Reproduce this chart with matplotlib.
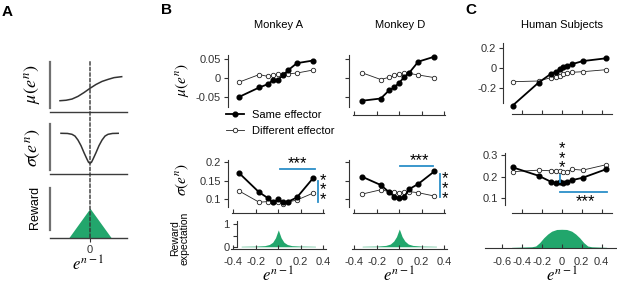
import numpy as np
import matplotlib
matplotlib.use('Agg')
import matplotlib.pyplot as plt
from matplotlib.lines import Line2D
from matplotlib.patches import ConnectionPatch

plt.rcParams['font.family'] = ['Liberation Sans', 'DejaVu Sans']
plt.rcParams['mathtext.fontset'] = 'stix'
plt.rcParams['axes.unicode_minus'] = False

# ---- panel A schematic (x in units of e^{n-1}, y normalised 0..1) ----
a_x_mu = [-1.0, -0.8, -0.6, -0.4, -0.2, 0.0, 0.2, 0.4, 0.6, 0.8, 1.056]
a_mu = [0.229, 0.238, 0.262, 0.315, 0.39, 0.474, 0.55, 0.61, 0.65, 0.685, 0.704]
a_x_sd = [-0.967, -0.75, -0.6, -0.5, -0.4, -0.3, -0.2, -0.1, -0.05, 0.0,
          0.05, 0.1, 0.2, 0.3, 0.4, 0.5, 0.6, 0.75, 0.94]
a_sd = [0.815, 0.812, 0.795, 0.76, 0.68, 0.57, 0.43, 0.30, 0.24, 0.219,
        0.24, 0.30, 0.43, 0.57, 0.68, 0.76, 0.795, 0.812, 0.815]
a_x_rew = [-0.72, 0.0, 0.72]
a_rew = [0.0, 0.6, 0.0]

# ---- panel B, monkey A ----
bins_A = [-0.35, -0.17, -0.09, -0.05, 0.0, 0.045, 0.09, 0.165, 0.31]
mu_A_same = [-0.050, -0.025, -0.016, -0.006, -0.004, 0.008, 0.021, 0.039, 0.046]
mu_A_diff = [-0.011, 0.009, 0.004, 0.007, 0.010, 0.010, 0.011, 0.013, 0.021]
sd_A_same = [0.171, 0.118, 0.102, 0.091, 0.099, 0.091, 0.093, 0.104, 0.157]
sd_A_diff = [0.122, 0.091, 0.093, 0.093, 0.093, 0.087, 0.092, 0.097, 0.116]

# ---- panel B, monkey D ----
bins_D = [-0.334, -0.165, -0.089, -0.044, 0.0, 0.044, 0.089, 0.169, 0.311]
mu_D_same = [-0.060, -0.054, -0.032, -0.025, -0.012, 0.002, 0.014, 0.043, 0.056]
mu_D_diff = [0.014, -0.004, 0.002, 0.007, 0.010, 0.012, 0.012, 0.008, 0.001]
sd_D_same = [0.161, 0.138, 0.118, 0.106, 0.102, 0.106, 0.127, 0.141, 0.175]
sd_D_diff = [0.113, 0.125, 0.120, 0.120, 0.117, 0.120, 0.120, 0.117, 0.108]

# ---- panel C, humans ----
bins_C = [-0.49, -0.23, -0.11, -0.055, -0.02, 0.012, 0.05, 0.105, 0.21, 0.443]
mu_C_same = [-0.372, -0.142, -0.057, -0.032, -0.008, 0.011, 0.020, 0.042, 0.072, 0.100]
mu_C_diff = [-0.134, -0.127, -0.094, -0.084, -0.077, -0.060, -0.050, -0.040, -0.034, -0.014]
sd_C_same = [0.243, 0.204, 0.177, 0.169, 0.174, 0.172, 0.175, 0.184, 0.195, 0.234]
sd_C_diff = [0.223, 0.230, 0.227, 0.227, 0.227, 0.223, 0.223, 0.234, 0.230, 0.255]

# ---- reward expectation ----
rew_x_B = [-0.33, -0.2, -0.12, -0.08, -0.05, -0.025, 0.0, 0.025, 0.05, 0.08, 0.12, 0.2, 0.33]
rew_A = [0.02, 0.03, 0.05, 0.10, 0.20, 0.40, 0.75, 0.40, 0.20, 0.10, 0.05, 0.03, 0.02]
rew_D = [0.02, 0.03, 0.06, 0.12, 0.25, 0.45, 0.79, 0.45, 0.25, 0.12, 0.06, 0.03, 0.02]
rew_x_C = [-0.5, -0.3, -0.26, -0.22, -0.18, -0.14, -0.1, -0.05, 0.0, 0.05, 0.1, 0.14, 0.18, 0.22, 0.26, 0.3, 0.45]
rew_C = [0.05, 0.08, 0.12, 0.30, 0.55, 0.75, 0.90, 0.99, 1.0, 0.99, 0.90, 0.75, 0.55, 0.30, 0.12, 0.08, 0.05]

xt_B = [-0.4, -0.2, 0, 0.2, 0.4]
xt_B_lab = ['-0.4', '-0.2', '0', '0.2', '0.4']
xt_C = [-0.6, -0.4, -0.2, 0, 0.2, 0.4]
xt_C_lab = ['-0.6', '-0.4', '-0.2', '0', '0.2', '0.4']

W, H = 617, 285
fig = plt.figure(figsize=(W / 100, H / 100), dpi=100)

GREEN = '#22a66c'
BLUE = '#2b8fc8'
DARK = '#222222'


def add_ax(x0, y0, x1, y1):
    ax = fig.add_axes([x0 / W, 1 - y1 / H, (x1 - x0) / W, (y1 - y0) / H])
    ax.patch.set_alpha(0)
    for s in ['top', 'right']:
        ax.spines[s].set_visible(False)
    ax.tick_params(labelsize=8, length=3, width=0.8, pad=2, colors='#333333')
    ax.tick_params(axis='x', direction='in')
    for s in ['left', 'bottom']:
        ax.spines[s].set_linewidth(0.8)
        ax.spines[s].set_color('#333333')
    return ax


def ftext(x, y, s, va='center', **kw):
    fig.text(x / W, 1 - y / H, s, ha='center', va=va, **kw)


def series(ax, x, same, diff):
    ax.plot(x, diff, '-o', color=DARK, lw=0.6, ms=3.2, mfc='white', mew=0.6, clip_on=False)
    ax.plot(x, same, '-o', color='black', lw=1.3, ms=3.4, clip_on=False)


# ================= panel A =================
axA = [add_ax(50, 61.7, 127, 112.3), add_ax(50, 124, 127, 174.3), add_ax(50, 188.3, 127, 238.3)]
for ax in axA:
    ax.set_xlim(-1.333, 1.233)
    ax.set_ylim(0, 1)
    ax.set_xticks([])
    ax.set_yticks([])
    ax.spines['left'].set_color('#707070')
    ax.spines['left'].set_linewidth(1.6)
    ax.spines['bottom'].set_color('#3c3c3c')
    ax.spines['bottom'].set_linewidth(1.0)
axA[0].spines['left'].set_bounds(0.08, 1)
axA[1].spines['left'].set_bounds(0.08, 1)
axA[2].spines['left'].set_bounds(0.17, 1)
axA[0].plot(a_x_mu, a_mu, color='#333333', lw=1.1)
axA[1].plot(a_x_sd, a_sd, color='#333333', lw=1.1)
axA[2].fill_between(a_x_rew, a_rew, color=GREEN, lw=0)
axA[2].set_xticks([0])
axA[2].set_xticklabels(['0'])
axA[2].tick_params(axis='x', direction='out', length=3)
con = ConnectionPatch(xyA=(0, 1), coordsA=axA[0].get_xaxis_transform(),
                      xyB=(0, 0), coordsB=axA[2].get_xaxis_transform(),
                      ls=(0, (2.5, 1.5)), lw=1.0, color='#333333')
fig.add_artist(con)
ftext(33, 84, r'$\mu(e^n)$', fontsize=13, rotation=90)
ftext(33, 148, r'$\sigma(e^n)$', fontsize=13, rotation=90)
ftext(35, 207, 'Reward', fontsize=9, rotation=90)
ftext(88, 271, r'$e^{n-1}$', va='baseline', fontsize=12)

# ================= panel B =================
xl_B = (-0.45, 0.45)
STAR = 12
for k, (x0, bins, mu_s, mu_d, sd_s, sd_d, rew) in enumerate([
        (278.3, bins_A, mu_A_same, mu_A_diff, sd_A_same, sd_A_diff, rew_A),
        (399.3, bins_D, mu_D_same, mu_D_diff, sd_D_same, sd_D_diff, rew_D)]):
    left, right = x0 - 50.6, x0 + 50.6
    axm = add_ax(left, 52, right, 115)
    axm.set_xlim(*xl_B)
    axm.set_ylim(-0.0974, 0.0684)
    axm.spines['left'].set_bounds(-0.076, 0.061)
    axm.set_yticks([-0.05, 0, 0.05])
    axm.set_xticks(xt_B)
    axm.set_xticklabels([])
    axm.spines['bottom'].set_bounds(-0.41, 0.41)
    series(axm, bins, mu_s, mu_d)

    axs = add_ax(left, 152, right, 213)
    axs.set_xlim(*xl_B)
    axs.set_ylim(0.0617, 0.228)
    axs.spines['left'].set_bounds(0.077, 0.205)
    axs.spines['bottom'].set_bounds(-0.41, 0.41)
    axs.set_yticks([0.1, 0.15, 0.2])
    axs.set_xticks(xt_B)
    axs.set_xticklabels([])
    series(axs, bins, sd_s, sd_d)

    axr = add_ax(left, 218, right, 249)
    axr.set_xlim(*xl_B)
    axr.set_ylim(-0.1, 1.28)
    axr.fill_between(rew_x_B, rew, color=GREEN, lw=0)
    axr.set_xticks(xt_B)
    axr.set_xticklabels(xt_B_lab)
    axr.spines['bottom'].set_bounds(-0.42, 0.42)
    axr.tick_params(axis='x', pad=6)
    ftext(x0, 282, r'$e^{n-1}$', va='baseline', fontsize=12)

    if k == 0:
        axm.set_yticklabels(['-0.05', '0', '0.05'])
        axm.spines['bottom'].set_visible(False)
        axm.tick_params(axis='x', length=0)
        axs.set_yticklabels(['0.1', '0.15', '0.2'])
        axr.spines['left'].set_position(('data', -0.37))
        axr.spines['left'].set_bounds(-0.03, 1.16)
        axr.set_yticks([0, 0.5, 1])
        axr.set_yticklabels(['0', '', '1'])
        # significance
        axs.plot([0.015, 0.326], [0.181, 0.181], color=BLUE, lw=1.3, clip_on=False)
        axs.text(0.17, 0.196, '***', fontsize=STAR, ha='center', va='center')
        axs.plot([0.356, 0.356], [0.148, 0.092], color=BLUE, lw=1.3, clip_on=False)
        axs.text(0.40, 0.125, '*\n*\n*', fontsize=STAR, ha='center', va='center', linespacing=0.55)
        ftext(278.3, 25, 'Monkey A', fontsize=8)
    else:
        axm.set_yticklabels([])
        axs.set_yticklabels([])
        axr.spines['left'].set_visible(False)
        axr.set_yticks([])
        axs.plot([0.006, 0.302], [0.19, 0.19], color=BLUE, lw=1.3, clip_on=False)
        axs.text(0.18, 0.205, '***', fontsize=STAR, ha='center', va='center')
        axs.plot([0.364, 0.364], [0.168, 0.105], color=BLUE, lw=1.3, clip_on=False)
        axs.text(0.41, 0.128, '*\n*\n*', fontsize=STAR, ha='center', va='center', linespacing=0.55)
        ftext(400, 25, 'Monkey D', fontsize=8)

ftext(182, 80, r'$\mu(e^n)$', fontsize=11, rotation=90)
ftext(182, 180, r'$\sigma(e^n)$', fontsize=11, rotation=90)
ftext(180, 238, 'Reward\nexpectation', fontsize=7.5, rotation=90, linespacing=1.0)

handles = [Line2D([], [], color='black', lw=1.3, marker='o', ms=3.4),
           Line2D([], [], color=DARK, lw=0.6, marker='o', ms=3.2, mfc='white', mew=0.6)]
fig.legend(handles, ['Same effector', 'Different effector'], loc='upper left',
           bbox_to_anchor=(226 / W, 1 - 110 / H), frameon=False, fontsize=8,
           handlelength=1.6, handletextpad=0.7, borderpad=0, borderaxespad=0,
           labelspacing=0.5)

# ================= panel C =================
axcm = add_ax(503.3, 43, 614.7, 114)
axcm.set_xlim(-0.584, 0.53)
axcm.set_ylim(-0.457, 0.253)
axcm.spines['left'].set_bounds(-0.35, 0.25)
axcm.spines['bottom'].set_bounds(-0.5, 0.5)
axcm.set_yticks([-0.2, 0, 0.2])
axcm.set_yticklabels(['-0.2', '0', '0.2'])
axcm.set_xticks(xt_C[1:])
axcm.set_xticklabels([])
series(axcm, bins_C, mu_C_same, mu_C_diff)

axcs = add_ax(505, 145, 614.7, 213.3)
axcs.set_xlim(-0.567, 0.53)
axcs.set_ylim(0.031, 0.346)
axcs.spines['left'].set_bounds(0.067, 0.31)
axcs.spines['bottom'].set_bounds(-0.5, 0.5)
axcs.set_yticks([0.1, 0.2, 0.3])
axcs.set_yticklabels(['0.1', '0.2', '0.3'])
axcs.set_xticks(xt_C[1:])
axcs.set_xticklabels([])
series(axcs, bins_C, sd_C_same, sd_C_diff)
axcs.plot([-0.017, 0.45], [0.130, 0.130], color=BLUE, lw=1.3, clip_on=False)
axcs.text(0.233, 0.085, '***', fontsize=STAR, ha='center', va='center')
axcs.plot([-0.017, -0.017], [0.207, 0.174], color=BLUE, lw=1.3, clip_on=False)
axcs.text(0.0, 0.285, '*\n*\n*', fontsize=STAR, ha='center', va='center', linespacing=0.55)

axcr = add_ax(485, 225, 617, 248.3)
axcr.set_xlim(-0.767, 0.553)
axcr.set_ylim(0, 1.226)
axcr.spines['left'].set_visible(False)
axcr.set_yticks([])
axcr.fill_between(rew_x_C, rew_C, color=GREEN, lw=0)
axcr.set_xticks(xt_C)
axcr.set_xticklabels(xt_C_lab)
axcr.tick_params(axis='x', pad=6)
ftext(561.7, 282, r'$e^{n-1}$', va='baseline', fontsize=12)
ftext(562, 25, 'Human Subjects', fontsize=8)

# panel letters
ftext(7.5, 12, 'A', fontsize=11, fontweight='bold')
ftext(167, 10, 'B', fontsize=11, fontweight='bold')
ftext(471, 10, 'C', fontsize=11, fontweight='bold')

fig.savefig('out.png', dpi=100)
